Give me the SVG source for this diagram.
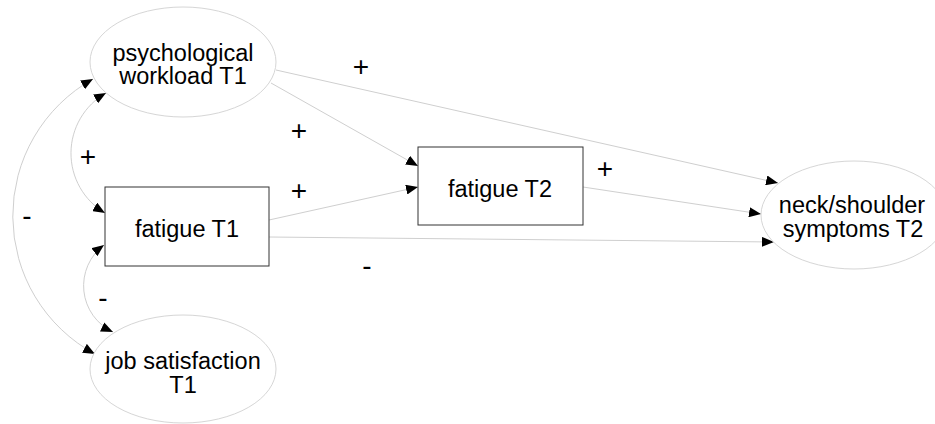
<svg xmlns="http://www.w3.org/2000/svg" width="935" height="424" viewBox="0 0 935 424">
<defs>
<marker id="ah" viewBox="0 0 12 10" refX="12" refY="5" markerWidth="12" markerHeight="10" markerUnits="userSpaceOnUse" orient="auto-start-reverse">
<path d="M0,0 L12,5 L0,10 Z" fill="#000"/>
</marker>
<style>
.ell{fill:#fff;stroke:#d6d6d6;stroke-width:1}
.box{fill:#fff;stroke:#333;stroke-width:1}
.t{font-family:"Liberation Sans",Arial,sans-serif;font-size:23.5px;fill:#000;text-anchor:middle}
.lb{font-family:"Liberation Sans",Arial,sans-serif;font-size:28px;fill:#000;text-anchor:middle}
.c{fill:none;stroke:#cfcfcf;stroke-width:1}
</style>
</defs>
<rect width="935" height="424" fill="#fff"/>
<g id="connectors">
<path class="c" d="M276,70 L778,183" marker-end="url(#ah)"/>
<path class="c" d="M271,83 L418,166" marker-end="url(#ah)"/>
<path class="c" d="M269,220 L418,187" marker-end="url(#ah)"/>
<path class="c" d="M583,187 L761,214" marker-end="url(#ah)"/>
<path class="c" d="M269,237 L774,242" marker-end="url(#ah)"/>
<path class="c" d="M106,93 A69.4,69.4 0 0 0 105,213" marker-start="url(#ah)" marker-end="url(#ah)"/>
<path class="c" d="M93,79 A157,157 0 0 0 95,354" marker-start="url(#ah)" marker-end="url(#ah)"/>
<path class="c" d="M104,245 A51,51 0 0 0 113,332" marker-start="url(#ah)" marker-end="url(#ah)"/>
<text class="lb" x="361" y="76">+</text>
<text class="lb" x="299" y="140">+</text>
<text class="lb" x="299" y="200">+</text>
<text class="lb" x="605" y="178">+</text>
<text class="lb" x="88" y="166">+</text>
<text class="lb" x="27" y="225">-</text>
<text class="lb" x="103" y="307">-</text>
<text class="lb" x="367" y="275">-</text>
</g>
<g id="psych">
<ellipse class="ell" cx="183" cy="62" rx="93" ry="55"/>
<text class="t" x="183" y="61">psychological</text>
<text class="t" x="183" y="84">workload T1</text>
</g>
<g id="fatigueT1">
<rect class="box" x="105" y="187" width="164" height="79"/>
<text class="t" x="187" y="237">fatigue T1</text>
</g>
<g id="jobsat">
<ellipse class="ell" cx="183" cy="369" rx="93" ry="54"/>
<text class="t" x="183" y="369">job satisfaction</text>
<text class="t" x="183" y="393">T1</text>
</g>
<g id="fatigueT2">
<rect class="box" x="418" y="147" width="165" height="78"/>
<text class="t" x="500" y="197">fatigue T2</text>
</g>
<g id="neck">
<ellipse class="ell" cx="854" cy="215" rx="93" ry="54"/>
<text class="t" x="852" y="213">neck/shoulder</text>
<text class="t" x="853" y="237">symptoms T2</text>
</g>
</svg>
